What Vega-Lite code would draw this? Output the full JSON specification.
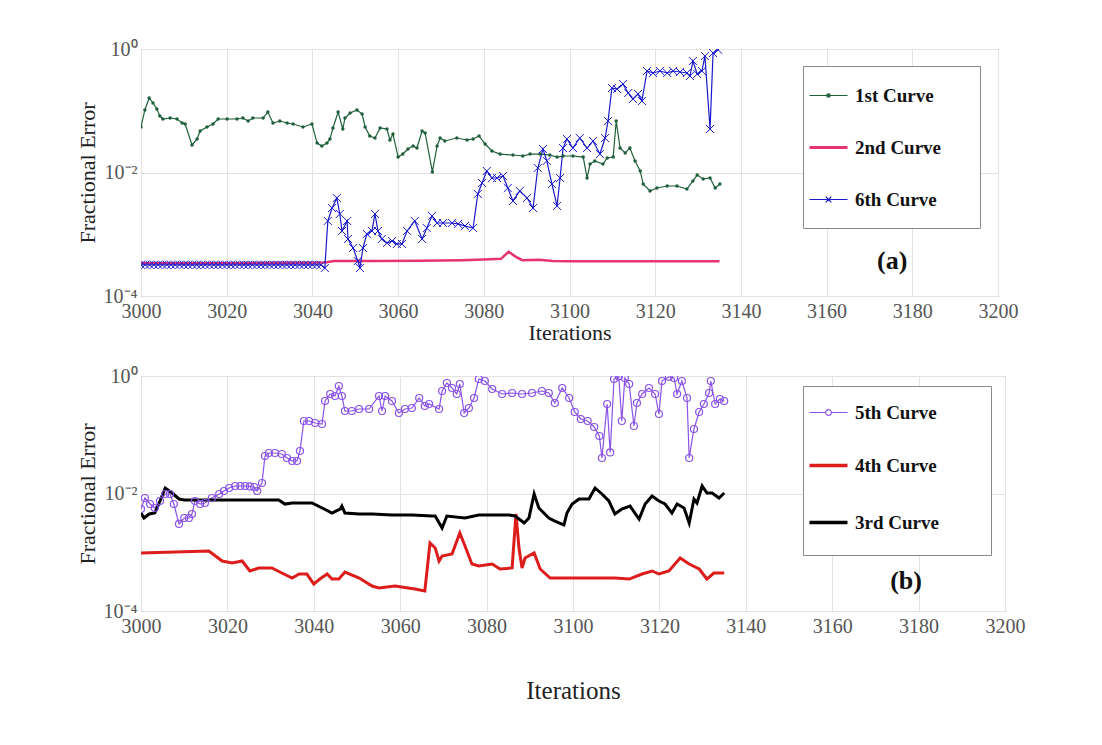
{
"$schema": "https://vega.github.io/schema/vega-lite/v6.json",
"padding": {"left": 75, "top": 38, "right": 5, "bottom": 5},
"spacing": 80,
"bounds": "flush",
"background": "white",
"resolve": {"scale": {"color": "independent", "x": "independent", "y": "independent"}, "legend": {"color": "independent"}},
"config": {
 "view": {"stroke": "#8a8a8a", "strokeWidth": 1},
 "axis": {"grid": true, "gridColor": "#e2e2e2", "domain": false, "ticks": false, "labelFont": "Liberation Serif", "labelFontSize": 20, "labelColor": "#555", "titleFont": "Liberation Serif", "titleFontWeight": "normal", "titleColor": "#222", "titleFontSize": 22}
},
"datasets": {
"top": [
{"s":"1st Curve","x":3000,"y":0.0546},{"s":"1st Curve","x":3000.9,"y":0.103},{"s":"1st Curve","x":3001.9,"y":0.161},{"s":"1st Curve","x":3002.8,"y":0.1335},{"s":"1st Curve","x":3003.7,"y":0.1068},{"s":"1st Curve","x":3004.4,"y":0.0822},{"s":"1st Curve","x":3005.1,"y":0.0735},{"s":"1st Curve","x":3006.8,"y":0.0763},{"s":"1st Curve","x":3008.4,"y":0.0735},{"s":"1st Curve","x":3009.6,"y":0.0633},{"s":"1st Curve","x":3010.3,"y":0.061},{"s":"1st Curve","x":3011.9,"y":0.0279},{"s":"1st Curve","x":3013.1,"y":0.0349},{"s":"1st Curve","x":3013.8,"y":0.047},{"s":"1st Curve","x":3015.4,"y":0.0546},{"s":"1st Curve","x":3016.8,"y":0.061},{"s":"1st Curve","x":3018.0,"y":0.0735},{"s":"1st Curve","x":3020.1,"y":0.0735},{"s":"1st Curve","x":3022.4,"y":0.0735},{"s":"1st Curve","x":3023.8,"y":0.0763},{"s":"1st Curve","x":3025.0,"y":0.0682},{"s":"1st Curve","x":3026.1,"y":0.0763},{"s":"1st Curve","x":3028.5,"y":0.0763},{"s":"1st Curve","x":3029.6,"y":0.0954},{"s":"1st Curve","x":3030.8,"y":0.0633},{"s":"1st Curve","x":3032.4,"y":0.0682},{"s":"1st Curve","x":3034.1,"y":0.0633},{"s":"1st Curve","x":3035.5,"y":0.061},{"s":"1st Curve","x":3037.8,"y":0.0546},{"s":"1st Curve","x":3039.9,"y":0.061},{"s":"1st Curve","x":3041.1,"y":0.03},{"s":"1st Curve","x":3042.2,"y":0.0269},{"s":"1st Curve","x":3043.4,"y":0.03},{"s":"1st Curve","x":3044.1,"y":0.0349},{"s":"1st Curve","x":3044.8,"y":0.0526},{"s":"1st Curve","x":3046.0,"y":0.0954},{"s":"1st Curve","x":3047.1,"y":0.0506},{"s":"1st Curve","x":3047.6,"y":0.0763},{"s":"1st Curve","x":3048.8,"y":0.0919},{"s":"1st Curve","x":3050.4,"y":0.1028},{"s":"1st Curve","x":3051.6,"y":0.0886},{"s":"1st Curve","x":3052.3,"y":0.0546},{"s":"1st Curve","x":3053.4,"y":0.039},{"s":"1st Curve","x":3054.6,"y":0.0362},{"s":"1st Curve","x":3055.8,"y":0.0526},{"s":"1st Curve","x":3057.4,"y":0.0506},{"s":"1st Curve","x":3058.1,"y":0.0336},{"s":"1st Curve","x":3058.8,"y":0.042},{"s":"1st Curve","x":3060.0,"y":0.0178},{"s":"1st Curve","x":3061.1,"y":0.0199},{"s":"1st Curve","x":3062.3,"y":0.024},{"s":"1st Curve","x":3063.5,"y":0.0269},{"s":"1st Curve","x":3064.4,"y":0.0249},{"s":"1st Curve","x":3065.6,"y":0.047},{"s":"1st Curve","x":3066.3,"y":0.0436},{"s":"1st Curve","x":3068.0,"y":0.0102},{"s":"1st Curve","x":3069.1,"y":0.0269},{"s":"1st Curve","x":3069.8,"y":0.0362},{"s":"1st Curve","x":3070.9,"y":0.0324},{"s":"1st Curve","x":3073.7,"y":0.0362},{"s":"1st Curve","x":3076.1,"y":0.0336},{"s":"1st Curve","x":3077.5,"y":0.0349},{"s":"1st Curve","x":3078.9,"y":0.039},{"s":"1st Curve","x":3080.3,"y":0.0289},{"s":"1st Curve","x":3081.9,"y":0.0223},{"s":"1st Curve","x":3083.8,"y":0.0199},{"s":"1st Curve","x":3086.8,"y":0.0192},{"s":"1st Curve","x":3089.1,"y":0.0185},{"s":"1st Curve","x":3090.8,"y":0.0199},{"s":"1st Curve","x":3093.1,"y":0.0199},{"s":"1st Curve","x":3095.4,"y":0.0192},{"s":"1st Curve","x":3097.1,"y":0.0178},{"s":"1st Curve","x":3098.5,"y":0.0185},{"s":"1st Curve","x":3100.8,"y":0.0185},{"s":"1st Curve","x":3103.2,"y":0.0178},{"s":"1st Curve","x":3104.1,"y":0.00815},{"s":"1st Curve","x":3104.8,"y":0.0137},{"s":"1st Curve","x":3105.9,"y":0.0154},{"s":"1st Curve","x":3107.8,"y":0.0137},{"s":"1st Curve","x":3108.8,"y":0.0172},{"s":"1st Curve","x":3110.2,"y":0.0178},{"s":"1st Curve","x":3110.9,"y":0.0682},{"s":"1st Curve","x":3111.8,"y":0.0249},{"s":"1st Curve","x":3113.0,"y":0.0207},{"s":"1st Curve","x":3114.1,"y":0.0249},{"s":"1st Curve","x":3115.3,"y":0.0154},{"s":"1st Curve","x":3116.5,"y":0.0106},{"s":"1st Curve","x":3117.2,"y":0.00651},{"s":"1st Curve","x":3118.8,"y":0.00502},{"s":"1st Curve","x":3120.4,"y":0.00561},{"s":"1st Curve","x":3122.8,"y":0.00605},{"s":"1st Curve","x":3125.1,"y":0.00605},{"s":"1st Curve","x":3127.4,"y":0.0054},{"s":"1st Curve","x":3128.8,"y":0.00729},{"s":"1st Curve","x":3129.8,"y":0.0091},{"s":"1st Curve","x":3131.2,"y":0.00785},{"s":"1st Curve","x":3132.8,"y":0.00815},{"s":"1st Curve","x":3134.0,"y":0.00561},{"s":"1st Curve","x":3135.1,"y":0.00651},
{"s":"2nd Curve","x":3000,"y":0.00034},{"s":"2nd Curve","x":3020,"y":0.00034},{"s":"2nd Curve","x":3043,"y":0.00035},{"s":"2nd Curve","x":3045,"y":0.00037},{"s":"2nd Curve","x":3055,"y":0.00037},{"s":"2nd Curve","x":3065,"y":0.000372},{"s":"2nd Curve","x":3075,"y":0.00038},{"s":"2nd Curve","x":3080,"y":0.00039},{"s":"2nd Curve","x":3084,"y":0.0004},{"s":"2nd Curve","x":3085.8,"y":0.00052},{"s":"2nd Curve","x":3087.5,"y":0.00043},{"s":"2nd Curve","x":3089,"y":0.00038},{"s":"2nd Curve","x":3093,"y":0.000385},{"s":"2nd Curve","x":3096,"y":0.00037},{"s":"2nd Curve","x":3100,"y":0.000365},{"s":"2nd Curve","x":3120,"y":0.000365},{"s":"2nd Curve","x":3135,"y":0.000365},
{"s":"6th Curve","x":3000,"y":0.00032},{"s":"6th Curve","x":3001,"y":0.00032},{"s":"6th Curve","x":3002,"y":0.00032},{"s":"6th Curve","x":3003,"y":0.00032},{"s":"6th Curve","x":3004,"y":0.00032},{"s":"6th Curve","x":3005,"y":0.00032},{"s":"6th Curve","x":3006,"y":0.00032},{"s":"6th Curve","x":3007,"y":0.00032},{"s":"6th Curve","x":3008,"y":0.00032},{"s":"6th Curve","x":3009,"y":0.00032},{"s":"6th Curve","x":3010,"y":0.00032},{"s":"6th Curve","x":3011,"y":0.00032},{"s":"6th Curve","x":3012,"y":0.00032},{"s":"6th Curve","x":3013,"y":0.00032},{"s":"6th Curve","x":3014,"y":0.00032},{"s":"6th Curve","x":3015,"y":0.00032},{"s":"6th Curve","x":3016,"y":0.00032},{"s":"6th Curve","x":3017,"y":0.00032},{"s":"6th Curve","x":3018,"y":0.00032},{"s":"6th Curve","x":3019,"y":0.00032},{"s":"6th Curve","x":3020,"y":0.00032},{"s":"6th Curve","x":3021,"y":0.00032},{"s":"6th Curve","x":3022,"y":0.00032},{"s":"6th Curve","x":3023,"y":0.00032},{"s":"6th Curve","x":3024,"y":0.00032},{"s":"6th Curve","x":3025,"y":0.00032},{"s":"6th Curve","x":3026,"y":0.00032},{"s":"6th Curve","x":3027,"y":0.00032},{"s":"6th Curve","x":3028,"y":0.00032},{"s":"6th Curve","x":3029,"y":0.00032},{"s":"6th Curve","x":3030,"y":0.00032},{"s":"6th Curve","x":3031,"y":0.00032},{"s":"6th Curve","x":3032,"y":0.00032},{"s":"6th Curve","x":3033,"y":0.00032},{"s":"6th Curve","x":3034,"y":0.00032},{"s":"6th Curve","x":3035,"y":0.00032},{"s":"6th Curve","x":3036,"y":0.00032},{"s":"6th Curve","x":3037,"y":0.00032},{"s":"6th Curve","x":3038,"y":0.00032},{"s":"6th Curve","x":3039,"y":0.00032},{"s":"6th Curve","x":3040,"y":0.00032},{"s":"6th Curve","x":3041,"y":0.00032},{"s":"6th Curve","x":3042,"y":0.00032},
{"s":"6th Curve","x":3042.9,"y":0.000284},{"s":"6th Curve","x":3043.6,"y":0.00164},{"s":"6th Curve","x":3044.6,"y":0.00266},{"s":"6th Curve","x":3045.7,"y":0.00386},{"s":"6th Curve","x":3046.4,"y":0.00213},{"s":"6th Curve","x":3046.9,"y":0.00113},{"s":"6th Curve","x":3048.1,"y":0.00164},{"s":"6th Curve","x":3048.3,"y":0.000838},{"s":"6th Curve","x":3049.5,"y":0.000599},{"s":"6th Curve","x":3050.6,"y":0.000369},{"s":"6th Curve","x":3051.1,"y":0.000284},{"s":"6th Curve","x":3051.8,"y":0.000599},{"s":"6th Curve","x":3052.7,"y":0.00101},{"s":"6th Curve","x":3053.9,"y":0.00113},{"s":"6th Curve","x":3054.6,"y":0.00213},{"s":"6th Curve","x":3055.3,"y":0.00113},{"s":"6th Curve","x":3056.2,"y":0.000838},{"s":"6th Curve","x":3057.4,"y":0.000722},{"s":"6th Curve","x":3058.6,"y":0.000777},{"s":"6th Curve","x":3059.7,"y":0.000696},{"s":"6th Curve","x":3060.9,"y":0.000696},{"s":"6th Curve","x":3062.1,"y":0.00113},{"s":"6th Curve","x":3063.9,"y":0.00164},{"s":"6th Curve","x":3065.6,"y":0.000838},{"s":"6th Curve","x":3066.7,"y":0.00126},{"s":"6th Curve","x":3067.9,"y":0.00198},{"s":"6th Curve","x":3069.1,"y":0.00152},{"s":"6th Curve","x":3070.5,"y":0.00152},{"s":"6th Curve","x":3072.6,"y":0.00152},{"s":"6th Curve","x":3074.0,"y":0.00147},{"s":"6th Curve","x":3075.6,"y":0.00136},{"s":"6th Curve","x":3077.5,"y":0.00126},{"s":"6th Curve","x":3078.6,"y":0.00449},{"s":"6th Curve","x":3079.6,"y":0.00676},{"s":"6th Curve","x":3080.7,"y":0.01057},{"s":"6th Curve","x":3081.9,"y":0.00815},{"s":"6th Curve","x":3083.1,"y":0.00815},{"s":"6th Curve","x":3084.5,"y":0.00878},{"s":"6th Curve","x":3085.6,"y":0.00561},{"s":"6th Curve","x":3086.8,"y":0.00346},{"s":"6th Curve","x":3088.4,"y":0.00502},{"s":"6th Curve","x":3090.1,"y":0.00386},{"s":"6th Curve","x":3091.5,"y":0.00266},{"s":"6th Curve","x":3092.6,"y":0.01183},{"s":"6th Curve","x":3093.8,"y":0.024},{"s":"6th Curve","x":3094.7,"y":0.0154},{"s":"6th Curve","x":3095.9,"y":0.00651},{"s":"6th Curve","x":3097.1,"y":0.00287},{"s":"6th Curve","x":3097.8,"y":0.00815},{"s":"6th Curve","x":3098.5,"y":0.0249},{"s":"6th Curve","x":3099.4,"y":0.0349},{"s":"6th Curve","x":3100.8,"y":0.0249},{"s":"6th Curve","x":3102.4,"y":0.0362},{"s":"6th Curve","x":3104.1,"y":0.0249},{"s":"6th Curve","x":3105.5,"y":0.0324},{"s":"6th Curve","x":3107.1,"y":0.0199},{"s":"6th Curve","x":3108.3,"y":0.0362},{"s":"6th Curve","x":3109.0,"y":0.0682},{"s":"6th Curve","x":3109.9,"y":0.2336},{"s":"6th Curve","x":3111.1,"y":0.225},{"s":"6th Curve","x":3112.5,"y":0.271},{"s":"6th Curve","x":3113.7,"y":0.194},{"s":"6th Curve","x":3114.8,"y":0.155},{"s":"6th Curve","x":3116.0,"y":0.187},{"s":"6th Curve","x":3116.9,"y":0.1438},{"s":"6th Curve","x":3118.1,"y":0.4403},{"s":"6th Curve","x":3119.5,"y":0.4087},{"s":"6th Curve","x":3121.1,"y":0.4403},{"s":"6th Curve","x":3122.8,"y":0.4087},{"s":"6th Curve","x":3124.2,"y":0.4403},{"s":"6th Curve","x":3125.8,"y":0.424},{"s":"6th Curve","x":3127.4,"y":0.4087},{"s":"6th Curve","x":3128.1,"y":0.3654},{"s":"6th Curve","x":3128.8,"y":0.6391},{"s":"6th Curve","x":3129.8,"y":0.3937},{"s":"6th Curve","x":3130.9,"y":0.4403},{"s":"6th Curve","x":3131.6,"y":0.7703},{"s":"6th Curve","x":3132.8,"y":0.0506},{"s":"6th Curve","x":3133.5,"y":0.861},{"s":"6th Curve","x":3134.7,"y":0.97}
],
"bot": [
{"s":"5th Curve","x":3000.0,"y":0.00545},{"s":"5th Curve","x":3000.9,"y":0.00838},{"s":"5th Curve","x":3002.1,"y":0.00663},{"s":"5th Curve","x":3003.2,"y":0.00566},{"s":"5th Curve","x":3004.4,"y":0.00746},{"s":"5th Curve","x":3005.6,"y":0.00981},{"s":"5th Curve","x":3006.7,"y":0.00981},{"s":"5th Curve","x":3007.6,"y":0.00663},{"s":"5th Curve","x":3008.8,"y":0.00303},{"s":"5th Curve","x":3010.0,"y":0.00383},{"s":"5th Curve","x":3011.1,"y":0.00383},{"s":"5th Curve","x":3011.8,"y":0.00448},{"s":"5th Curve","x":3012.5,"y":0.00746},{"s":"5th Curve","x":3013.7,"y":0.00663},{"s":"5th Curve","x":3014.8,"y":0.00689},{"s":"5th Curve","x":3016.4,"y":0.00838},{"s":"5th Curve","x":3018.1,"y":0.00981},{"s":"5th Curve","x":3019.2,"y":0.01103},{"s":"5th Curve","x":3020.4,"y":0.01241},{"s":"5th Curve","x":3021.8,"y":0.01342},{"s":"5th Curve","x":3023.0,"y":0.01342},{"s":"5th Curve","x":3024.1,"y":0.01342},{"s":"5th Curve","x":3025.2,"y":0.0132},{"s":"5th Curve","x":3026.2,"y":0.0129},{"s":"5th Curve","x":3026.9,"y":0.01103},{"s":"5th Curve","x":3028.0,"y":0.0151},{"s":"5th Curve","x":3028.7,"y":0.04347},{"s":"5th Curve","x":3029.6,"y":0.0489},{"s":"5th Curve","x":3031.0,"y":0.0489},{"s":"5th Curve","x":3032.6,"y":0.04703},{"s":"5th Curve","x":3033.8,"y":0.04021},{"s":"5th Curve","x":3035.0,"y":0.03574},{"s":"5th Curve","x":3036.1,"y":0.03574},{"s":"5th Curve","x":3036.8,"y":0.05289},{"s":"5th Curve","x":3037.7,"y":0.1714},{"s":"5th Curve","x":3038.9,"y":0.1714},{"s":"5th Curve","x":3040.3,"y":0.1585},{"s":"5th Curve","x":3041.9,"y":0.1524},{"s":"5th Curve","x":3042.6,"y":0.3754},{"s":"5th Curve","x":3043.8,"y":0.4939},{"s":"5th Curve","x":3044.9,"y":0.4566},{"s":"5th Curve","x":3045.8,"y":0.6761},{"s":"5th Curve","x":3046.5,"y":0.4566},{"s":"5th Curve","x":3047.2,"y":0.2536},{"s":"5th Curve","x":3048.8,"y":0.2536},{"s":"5th Curve","x":3050.5,"y":0.2743},{"s":"5th Curve","x":3052.8,"y":0.2743},{"s":"5th Curve","x":3055.1,"y":0.4566},{"s":"5th Curve","x":3055.8,"y":0.2536},{"s":"5th Curve","x":3056.5,"y":0.4566},{"s":"5th Curve","x":3058.1,"y":0.3754},{"s":"5th Curve","x":3059.7,"y":0.2345},{"s":"5th Curve","x":3061.1,"y":0.2743},{"s":"5th Curve","x":3062.7,"y":0.2853},{"s":"5th Curve","x":3064.4,"y":0.4221},{"s":"5th Curve","x":3065.7,"y":0.3085},{"s":"5th Curve","x":3066.7,"y":0.3337},{"s":"5th Curve","x":3069.0,"y":0.2743},{"s":"5th Curve","x":3069.7,"y":0.5555},{"s":"5th Curve","x":3070.8,"y":0.7601},{"s":"5th Curve","x":3072.0,"y":0.6249},{"s":"5th Curve","x":3073.1,"y":0.4939},{"s":"5th Curve","x":3073.8,"y":0.7308},{"s":"5th Curve","x":3074.8,"y":0.2345},{"s":"5th Curve","x":3075.9,"y":0.2853},{"s":"5th Curve","x":3077.1,"y":0.4221},{"s":"5th Curve","x":3078.2,"y":0.889},{"s":"5th Curve","x":3079.6,"y":0.8222},{"s":"5th Curve","x":3081.3,"y":0.6009},{"s":"5th Curve","x":3083.6,"y":0.4939},{"s":"5th Curve","x":3085.9,"y":0.5136},{"s":"5th Curve","x":3088.2,"y":0.4939},{"s":"5th Curve","x":3090.5,"y":0.5136},{"s":"5th Curve","x":3092.8,"y":0.5555},{"s":"5th Curve","x":3094.4,"y":0.5136},{"s":"5th Curve","x":3095.8,"y":0.347},{"s":"5th Curve","x":3097.5,"y":0.6249},{"s":"5th Curve","x":3099.1,"y":0.4221},{"s":"5th Curve","x":3100.4,"y":0.244},{"s":"5th Curve","x":3101.8,"y":0.1854},{"s":"5th Curve","x":3103.4,"y":0.1714},{"s":"5th Curve","x":3104.9,"y":0.1355},{"s":"5th Curve","x":3106.1,"y":0.0952},{"s":"5th Curve","x":3106.7,"y":0.0402},{"s":"5th Curve","x":3107.9,"y":0.3337},{"s":"5th Curve","x":3108.6,"y":0.05},{"s":"5th Curve","x":3109.5,"y":0.889},{"s":"5th Curve","x":3110.6,"y":0.98},{"s":"5th Curve","x":3111.3,"y":0.1714},{"s":"5th Curve","x":3112.0,"y":0.924},{"s":"5th Curve","x":3113.0,"y":0.7308},{"s":"5th Curve","x":3114.1,"y":0.141},{"s":"5th Curve","x":3114.8,"y":0.347},{"s":"5th Curve","x":3116.0,"y":0.4939},{"s":"5th Curve","x":3117.6,"y":0.6249},{"s":"5th Curve","x":3119.0,"y":0.4939},{"s":"5th Curve","x":3119.9,"y":0.2255},{"s":"5th Curve","x":3120.6,"y":0.8222},{"s":"5th Curve","x":3122.2,"y":0.97},{"s":"5th Curve","x":3123.4,"y":0.924},{"s":"5th Curve","x":3124.1,"y":0.4939},{"s":"5th Curve","x":3125.2,"y":0.8222},{"s":"5th Curve","x":3126.4,"y":0.4221},{"s":"5th Curve","x":3126.9,"y":0.0402},{"s":"5th Curve","x":3128.0,"y":0.1253},{"s":"5th Curve","x":3129.2,"y":0.2438},{"s":"5th Curve","x":3130.3,"y":0.3337},{"s":"5th Curve","x":3131.5,"y":0.5136},{"s":"5th Curve","x":3131.9,"y":0.8222},{"s":"5th Curve","x":3132.9,"y":0.3337},{"s":"5th Curve","x":3134.0,"y":0.406},{"s":"5th Curve","x":3135.0,"y":0.3754},
{"s":"4th Curve","x":3000.0,"y":0.000971},{"s":"4th Curve","x":3015.7,"y":0.00105},{"s":"4th Curve","x":3018.8,"y":0.00071},{"s":"4th Curve","x":3021.1,"y":0.000657},{"s":"4th Curve","x":3023.4,"y":0.00071},{"s":"4th Curve","x":3025.2,"y":0.00048},{"s":"4th Curve","x":3027.3,"y":0.00054},{"s":"4th Curve","x":3030.3,"y":0.00054},{"s":"4th Curve","x":3032.6,"y":0.000443},{"s":"4th Curve","x":3035.0,"y":0.000364},{"s":"4th Curve","x":3036.6,"y":0.000426},{"s":"4th Curve","x":3038.4,"y":0.000426},{"s":"4th Curve","x":3040.0,"y":0.000288},{"s":"4th Curve","x":3041.4,"y":0.00035},{"s":"4th Curve","x":3043.1,"y":0.000426},{"s":"4th Curve","x":3044.2,"y":0.00035},{"s":"4th Curve","x":3045.8,"y":0.00035},{"s":"4th Curve","x":3047.2,"y":0.000461},{"s":"4th Curve","x":3050.5,"y":0.000364},{"s":"4th Curve","x":3053.5,"y":0.000266},{"s":"4th Curve","x":3055.1,"y":0.000246},{"s":"4th Curve","x":3058.8,"y":0.000266},{"s":"4th Curve","x":3063.4,"y":0.000237},{"s":"4th Curve","x":3065.7,"y":0.000219},{"s":"4th Curve","x":3066.9,"y":0.001437},{"s":"4th Curve","x":3068.1,"y":0.001182},{"s":"4th Curve","x":3069.0,"y":0.00071},{"s":"4th Curve","x":3069.7,"y":0.000864},{"s":"4th Curve","x":3072.0,"y":0.000934},{"s":"4th Curve","x":3073.8,"y":0.002127},{"s":"4th Curve","x":3075.0,"y":0.001278},{"s":"4th Curve","x":3076.6,"y":0.000631},{"s":"4th Curve","x":3078.2,"y":0.000583},{"s":"4th Curve","x":3081.3,"y":0.000631},{"s":"4th Curve","x":3083.1,"y":0.000519},{"s":"4th Curve","x":3085.9,"y":0.00054},{"s":"4th Curve","x":3086.8,"y":0.00448},{"s":"4th Curve","x":3087.5,"y":0.00118},{"s":"4th Curve","x":3088.2,"y":0.00054},{"s":"4th Curve","x":3088.9,"y":0.000798},{"s":"4th Curve","x":3091.0,"y":0.000971},{"s":"4th Curve","x":3092.4,"y":0.000519},{"s":"4th Curve","x":3094.7,"y":0.000364},{"s":"4th Curve","x":3097.5,"y":0.000364},{"s":"4th Curve","x":3102.1,"y":0.000364},{"s":"4th Curve","x":3106.7,"y":0.000364},{"s":"4th Curve","x":3109.7,"y":0.000364},{"s":"4th Curve","x":3113.0,"y":0.00035},{"s":"4th Curve","x":3116.0,"y":0.000426},{"s":"4th Curve","x":3118.3,"y":0.00048},{"s":"4th Curve","x":3119.9,"y":0.000426},{"s":"4th Curve","x":3122.2,"y":0.00048},{"s":"4th Curve","x":3124.8,"y":0.000798},{"s":"4th Curve","x":3126.9,"y":0.000631},{"s":"4th Curve","x":3129.2,"y":0.000519},{"s":"4th Curve","x":3131.0,"y":0.00035},{"s":"4th Curve","x":3132.6,"y":0.000443},{"s":"4th Curve","x":3135.0,"y":0.000443},
{"s":"3rd Curve","x":3000.0,"y":0.00466},{"s":"3rd Curve","x":3000.7,"y":0.00383},{"s":"3rd Curve","x":3001.9,"y":0.00448},{"s":"3rd Curve","x":3003.2,"y":0.00466},{"s":"3rd Curve","x":3004.4,"y":0.00746},{"s":"3rd Curve","x":3005.6,"y":0.01241},{"s":"3rd Curve","x":3007.2,"y":0.0102},{"s":"3rd Curve","x":3008.8,"y":0.00806},{"s":"3rd Curve","x":3010,"y":0.00775},{"s":"3rd Curve","x":3020,"y":0.00775},{"s":"3rd Curve","x":3031.9,"y":0.00775},{"s":"3rd Curve","x":3033.3,"y":0.0066},{"s":"3rd Curve","x":3035.0,"y":0.00689},{"s":"3rd Curve","x":3039.6,"y":0.00689},{"s":"3rd Curve","x":3042.4,"y":0.00545},{"s":"3rd Curve","x":3044.2,"y":0.00466},{"s":"3rd Curve","x":3046.1,"y":0.00545},{"s":"3rd Curve","x":3046.5,"y":0.0061},{"s":"3rd Curve","x":3047.2,"y":0.00466},{"s":"3rd Curve","x":3050.5,"y":0.00448},{"s":"3rd Curve","x":3053.5,"y":0.00448},{"s":"3rd Curve","x":3058.1,"y":0.0043},{"s":"3rd Curve","x":3062.7,"y":0.0043},{"s":"3rd Curve","x":3067.4,"y":0.00414},{"s":"3rd Curve","x":3068.1,"y":0.00414},{"s":"3rd Curve","x":3069.7,"y":0.00259},{"s":"3rd Curve","x":3070.8,"y":0.00414},{"s":"3rd Curve","x":3075.0,"y":0.00383},{"s":"3rd Curve","x":3078.2,"y":0.0043},{"s":"3rd Curve","x":3085.2,"y":0.0043},{"s":"3rd Curve","x":3086.6,"y":0.00414},{"s":"3rd Curve","x":3088.7,"y":0.00315},{"s":"3rd Curve","x":3089.8,"y":0.00383},{"s":"3rd Curve","x":3091.0,"y":0.00981},{"s":"3rd Curve","x":3092.1,"y":0.00566},{"s":"3rd Curve","x":3094.4,"y":0.00383},{"s":"3rd Curve","x":3095.8,"y":0.0034},{"s":"3rd Curve","x":3097.9,"y":0.00291},{"s":"3rd Curve","x":3098.6,"y":0.00466},{"s":"3rd Curve","x":3099.8,"y":0.00663},{"s":"3rd Curve","x":3101.4,"y":0.00806},{"s":"3rd Curve","x":3103.7,"y":0.00806},{"s":"3rd Curve","x":3105.1,"y":0.01241},{"s":"3rd Curve","x":3106.7,"y":0.00981},{"s":"3rd Curve","x":3108.3,"y":0.00746},{"s":"3rd Curve","x":3109.7,"y":0.00448},{"s":"3rd Curve","x":3111.3,"y":0.00545},{"s":"3rd Curve","x":3113.2,"y":0.0061},{"s":"3rd Curve","x":3115.3,"y":0.00368},{"s":"3rd Curve","x":3116.7,"y":0.00663},{"s":"3rd Curve","x":3118.3,"y":0.00907},{"s":"3rd Curve","x":3119.9,"y":0.00746},{"s":"3rd Curve","x":3121.3,"y":0.00663},{"s":"3rd Curve","x":3122.9,"y":0.00466},{"s":"3rd Curve","x":3124.1,"y":0.00663},{"s":"3rd Curve","x":3125.7,"y":0.00566},{"s":"3rd Curve","x":3126.9,"y":0.00315},{"s":"3rd Curve","x":3128.0,"y":0.00806},{"s":"3rd Curve","x":3128.7,"y":0.00689},{"s":"3rd Curve","x":3129.9,"y":0.01342},{"s":"3rd Curve","x":3131.0,"y":0.0102},{"s":"3rd Curve","x":3132.2,"y":0.0102},{"s":"3rd Curve","x":3133.8,"y":0.00838},{"s":"3rd Curve","x":3135.0,"y":0.0102}
]
},
"vconcat": [
{
 "width": 857, "height": 247,
 "data": {"name": "top"},
 "encoding": {
  "x": {"field": "x", "type": "quantitative", "scale": {"domain": [3000, 3200], "nice": false, "zero": false},
        "axis": {"values": [3000,3020,3040,3060,3080,3100,3120,3140,3160,3180,3200], "format": "d", "labelFlush": false, "labelPadding": 5, "title": "Iterations", "titlePadding": 1}},
  "y": {"field": "y", "type": "quantitative", "scale": {"type": "log", "domain": [0.0001, 1], "nice": false},
        "axis": {"values": [0.0001, 0.01, 1], "labelExpr": "datum.value >= 0.5 ? '10⁰' : datum.value > 0.001 ? '10⁻²' : '10⁻⁴'", "labelPadding": 4, "title": "Fractional Error", "titlePadding": 4}}
 },
 "layer": [
  {"mark": {"type": "line", "clip": true},
   "encoding": {
    "color": {"field": "s", "type": "nominal", "scale": {"domain": ["1st Curve", "2nd Curve", "6th Curve"], "range": ["#1f5f3a", "#e8336e", "#1a1acc"]},
     "legend": {"orient": "none", "legendX": 662, "legendY": 17, "title": "\u2800", "titleFontSize": 1, "titlePadding": 9, "symbolType": "stroke", "symbolSize": 1444, "symbolStrokeWidth": 1.2, "symbolOffset": 6,
      "labelFont": "Liberation Serif", "labelFontSize": 19, "labelFontWeight": "bold", "labelColor": "#111", "labelOffset": 17, "rowPadding": 12, "padding": 10, "labelLimit": 400,
      "strokeColor": "#8a8a8a", "fillColor": "white",
      "labelExpr": "datum.label + '\u2800\u2800'",
      "encode": {"symbols": {"update": {
        "shape": {"signal": "datum.value === '1st Curve' ? 'M0,-0.8M0,0.8M-1,0H1M-0.07,-0.07H0.07V0.07H-0.07Z' : datum.value === '6th Curve' ? 'M0,-0.8M0,0.8M-1,0H1M-0.15,-0.15L0.15,0.15M-0.15,0.15L0.15,-0.15' : 'M0,-0.8M0,0.8M-1,0H1'"},
        "fill": {"signal": "datum.value === '1st Curve' ? '#1f5f3a' : 'transparent'"},
        "strokeWidth": {"signal": "datum.value === '2nd Curve' ? 3 : 1.2"}}}}}},
    "strokeWidth": {"condition": {"test": "datum.s === '2nd Curve'", "value": 2.5}, "value": 1.2}
   }},
  {"transform": [{"filter": "datum.s === '1st Curve'"}],
   "mark": {"type": "point", "filled": true, "shape": "circle", "size": 12, "color": "#1f5f3a", "opacity": 1, "clip": true}},
  {"transform": [{"filter": "datum.s === '6th Curve'"}],
   "mark": {"type": "point", "filled": false, "shape": "M-1,-1L1,1M-1,1L1,-1", "size": 64, "color": "#1a1acc", "strokeWidth": 1, "opacity": 1, "clip": true}},
  {"data": {"values": [{"x": 3175.3, "y": 0.00037, "t": "(a)"}]},
   "mark": {"type": "text", "font": "Liberation Serif", "fontSize": 26, "fontWeight": "bold", "color": "#111"},
   "encoding": {"text": {"field": "t", "type": "nominal"}}}
 ]
},
{
 "width": 864, "height": 235,
 "data": {"name": "bot"},
 "encoding": {
  "x": {"field": "x", "type": "quantitative", "scale": {"domain": [3000, 3200], "nice": false, "zero": false},
        "axis": {"values": [3000,3020,3040,3060,3080,3100,3120,3140,3160,3180,3200], "format": "d", "labelFlush": false, "labelPadding": 5, "title": "Iterations", "titlePadding": 42, "titleFontSize": 25}},
  "y": {"field": "y", "type": "quantitative", "scale": {"type": "log", "domain": [0.0001, 1], "nice": false},
        "axis": {"values": [0.0001, 0.01, 1], "labelExpr": "datum.value >= 0.5 ? '10⁰' : datum.value > 0.001 ? '10⁻²' : '10⁻⁴'", "labelPadding": 4, "title": "Fractional Error", "titlePadding": 4}}
 },
 "layer": [
  {"mark": {"type": "line", "clip": true},
   "encoding": {
    "color": {"field": "s", "type": "nominal", "scale": {"domain": ["5th Curve", "4th Curve", "3rd Curve"], "range": ["#8a52e8", "#dd1c1c", "#000000"]},
     "legend": {"orient": "none", "legendX": 662, "legendY": 10, "title": "\u2800", "titleFontSize": 1, "titlePadding": 6, "symbolType": "stroke", "symbolSize": 1444, "symbolStrokeWidth": 1.2, "symbolOffset": 6,
      "labelFont": "Liberation Serif", "labelFontSize": 19, "labelFontWeight": "bold", "labelColor": "#111", "labelOffset": 17, "rowPadding": 12, "padding": 10, "labelLimit": 400,
      "strokeColor": "#8a8a8a", "fillColor": "white",
      "labelExpr": "datum.label + '\u2800\u2800\u2800'",
      "encode": {"symbols": {"update": {
        "shape": {"signal": "datum.value === '5th Curve' ? 'M0,-0.8M0,0.8M-1,0H-0.16M0.16,0H1M0.16,0L0.113,0.113L0,0.16L-0.113,0.113L-0.16,0L-0.113,-0.113L0,-0.16L0.113,-0.113Z' : 'M0,-0.8M0,0.8M-1,0H1'"},
        "fill": {"value": "transparent"},
        "strokeWidth": {"signal": "datum.value === '5th Curve' ? 1.2 : 3.5"}}}}}},
    "strokeWidth": {"condition": {"test": "datum.s === '5th Curve'", "value": 1.2}, "value": 3}
   }},
  {"transform": [{"filter": "datum.s === '5th Curve'"}],
   "mark": {"type": "point", "filled": false, "shape": "circle", "size": 49, "color": "#8a52e8", "strokeWidth": 1.2, "opacity": 1, "clip": true}},
  {"data": {"values": [{"x": 3177.1, "y": 0.000324, "t": "(b)"}]},
   "mark": {"type": "text", "font": "Liberation Serif", "fontSize": 26, "fontWeight": "bold", "color": "#111"},
   "encoding": {"text": {"field": "t", "type": "nominal"}}}
 ]
}
]
}
